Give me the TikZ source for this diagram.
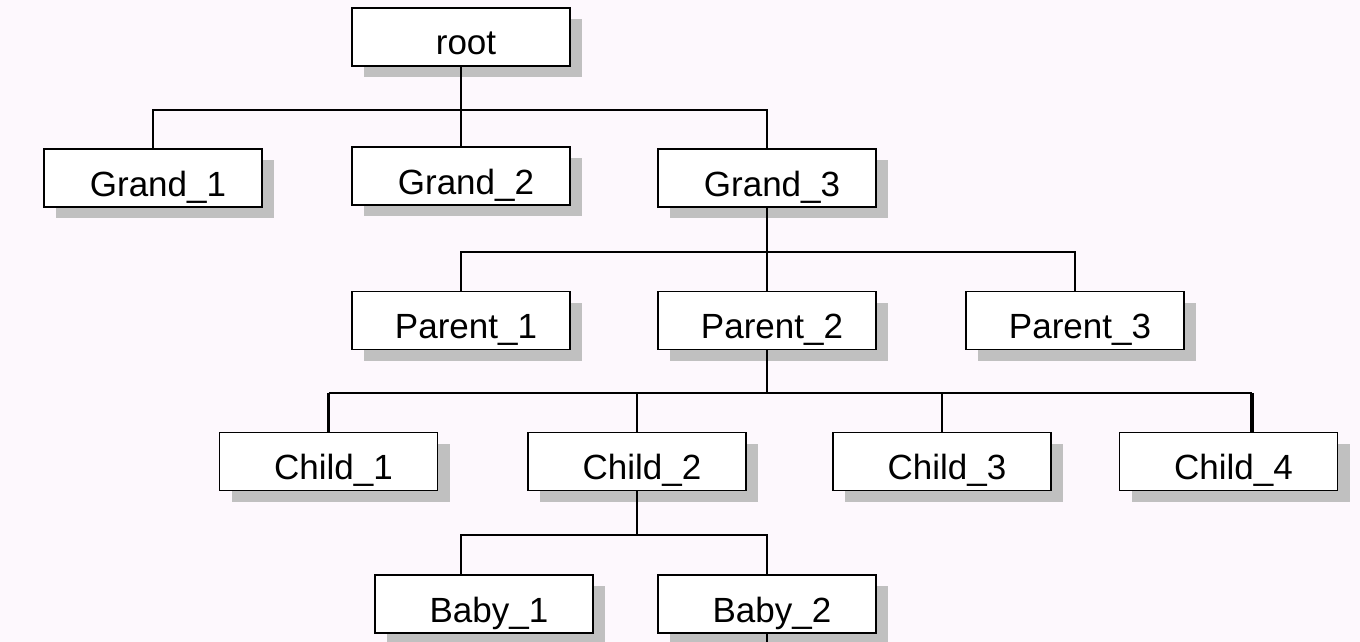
\documentclass[tikz,border=0pt]{standalone}
\usepackage{fontspec}
\setmainfont{Liberation Sans}
\usepackage[x11names, svgnames, rgb]{xcolor}
\usepackage{tikz}
\usetikzlibrary{shadows, backgrounds, positioning}
\definecolor{paperpink}{RGB}{253,248,253}
\definecolor{shadowgrey}{RGB}{192,192,192}

\begin{document}
\begin{tikzpicture}[x=0.5pt, y=-0.5pt, line join=miter,
        member/.style={draw, thick, fill=white, rectangle, minimum width=109pt, minimum height=29pt,
            inner sep=0pt, text height=18pt, text depth=0pt,
            font=\fontsize{17.5}{21}\selectfont, execute at begin node={\hspace*{5pt}},
            drop shadow={shadow xshift=6pt, shadow yshift=-5.5pt, fill=shadowgrey, opacity=1}},
        link/.style={draw, thick},
        heavylink/.style={draw, line width=1.8pt}]
        \useasboundingbox[fill=paperpink] (0,0) rectangle (1360,642);

        % generations, top to bottom
        \node[member] (root) at (461,37) {root};

        \node[member] (g1) at (153,178) {Grand\_1};
        \node[member] (g2) at (461,176) {Grand\_2};
        \node[member] (g3) at (767,178) {Grand\_3};

        \node[member] (p1) at (461,320.5) {Parent\_1};
        \node[member] (p2) at (767,320.5) {Parent\_2};
        \node[member] (p3) at (1075,320.5) {Parent\_3};

        \node[member] (c1) at (328.5,461.5) {Child\_1};
        \node[member] (c2) at (637,461.5) {Child\_2};
        \node[member] (c3) at (942,461.5) {Child\_3};
        \node[member] (c4) at (1228.5,461.5) {Child\_4};

        \node[member] (b1) at (484,604) {Baby\_1};
        \node[member] (b2) at (767,604) {Baby\_2};

        % bus rows
        \coordinate (bus1) at (461,110);
        \coordinate (bus2) at (767,252);
        \coordinate (bus3) at (767,393);
        \coordinate (bus4) at (637,535);
        \coordinate (tail) at (767,642);

        \draw[link] (root.south) -- (bus1);
        \draw[link] (g1.north) |- (bus1) -| (g3.north);
        \draw[link] (g2.north) -- (bus1);

        \draw[link] (g3.south) -- (bus2);
        \draw[link] (p1.north) |- (bus2) -| (p3.north);
        \draw[link] (p2.north) -- (bus2);

        \draw[link] (p2.south) -- (bus3);
        \draw[link] (c1.north |- bus3) -- ([xshift=11.75pt]c4.north |- bus3);
        \draw[heavylink] (c1.north) -- (c1.north |- bus3);
        \draw[heavylink] ([xshift=11.75pt]c4.north) -- ([xshift=11.75pt]c4.north |- bus3);
        \draw[link] (c2.north) -- (c2.north |- bus3);
        \draw[link] (c3.north) -- (c3.north |- bus3);

        \draw[link] (c2.south) -- (bus4);
        \draw[link] ([xshift=-11.5pt]b1.north) |- (bus4) -| (b2.north);

        \draw[link] (b2.south) -- (tail);
      \end{tikzpicture}
\end{document}
